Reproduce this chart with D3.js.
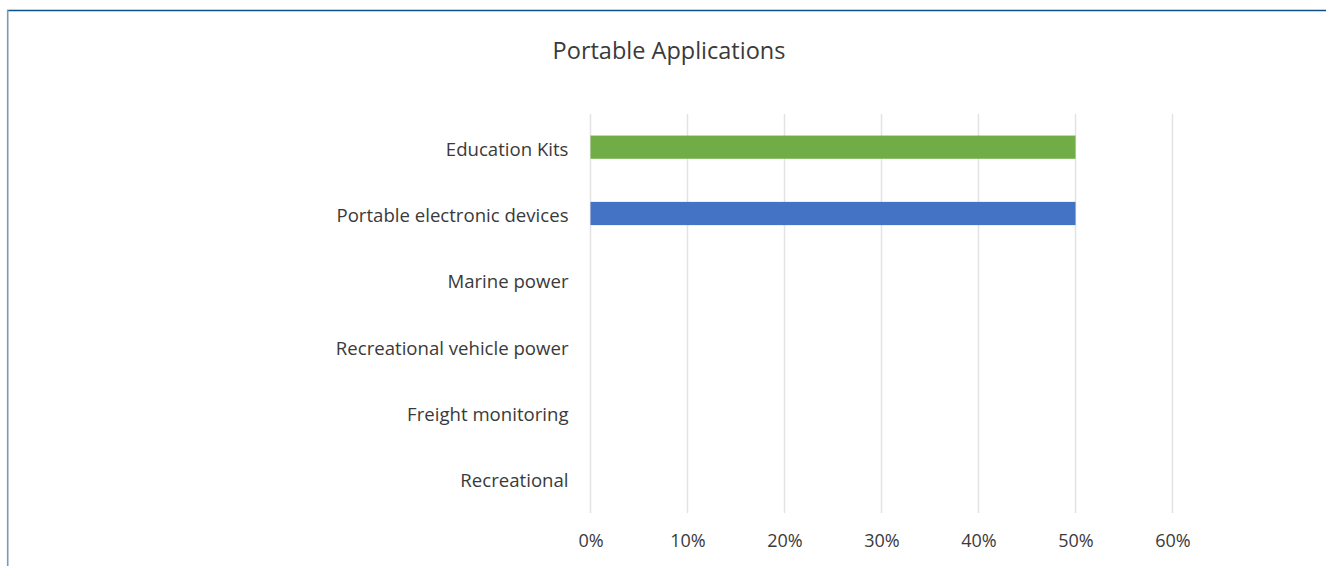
<!DOCTYPE html>
<html>
<head>
<meta charset="utf-8">
<script src="https://cdn.jsdelivr.net/npm/d3@7"></script>
<style>
  html, body { margin: 0; padding: 0; background: #fff; }
  svg { display: block; }
  text { font-family: "Open Sans", Lato, sans-serif; fill: #3a3a3a; }
</style>
</head>
<body>
<script>
const categories = ["Education Kits", "Portable electronic devices", "Marine power", "Recreational vehicle power", "Freight monitoring", "Recreational"];
const values = [0.50, 0.50, 0, 0, 0, 0];
const barColors = ["#70ad47", "#4472c4", "#4472c4", "#4472c4", "#4472c4", "#4472c4"];
const tickValues = [0, 0.1, 0.2, 0.3, 0.4, 0.5, 0.6];
const title = "Portable Applications";

const W = 1326, H = 566;
const svg = d3.select("body").append("svg").attr("width", W).attr("height", H);

// frame lines
svg.append("line").attr("x1", 7).attr("x2", W).attr("y1", 10.5).attr("y2", 10.5)
  .attr("stroke", "#0d4f8b").attr("stroke-width", 1.6);
svg.append("line").attr("x1", 7.7).attr("x2", 7.7).attr("y1", 10).attr("y2", H)
  .attr("stroke", "#7a9bb5").attr("stroke-width", 1.6);

const x = d3.scaleLinear().domain([0, 0.6]).range([590.5, 1172.5]);
const y = d3.scaleBand().domain(categories).range([114, 512]).paddingInner(0.65).paddingOuter(0.325);

// gridlines
svg.append("g").selectAll("line").data(tickValues).join("line")
  .attr("x1", d => x(d)).attr("x2", d => x(d))
  .attr("y1", 114).attr("y2", 513)
  .attr("stroke", "#e3e3e3").attr("stroke-width", 1.5);

// bars
svg.append("g").selectAll("rect").data(categories).join("rect")
  .attr("x", x(0))
  .attr("y", d => y(d))
  .attr("width", (d, i) => x(values[i]) - x(0))
  .attr("height", y.bandwidth())
  .attr("fill", (d, i) => barColors[i]);

// y axis labels
const yAxis = d3.axisLeft(y).tickSize(0).tickPadding(22);
const gy = svg.append("g").attr("transform", `translate(${x(0)},0)`).call(yAxis);
gy.select(".domain").remove();
gy.selectAll("text").style("font-size", "18.6px").style("font-family", "'Open Sans', sans-serif").attr("fill", "#3a3a3a").attr("dy", "0.46em");

// x axis labels
const xAxis = d3.axisBottom(x).tickValues(tickValues).tickFormat(d3.format(".0%")).tickSize(0).tickPadding(0);
const gx = svg.append("g").attr("transform", `translate(0,${534})`).call(xAxis);
gx.select(".domain").remove();
gx.selectAll("text").style("font-size", "18px").style("font-family", "'Open Sans', sans-serif").attr("fill", "#3a3a3a");

// title
svg.append("text").attr("x", 669).attr("y", 59).attr("text-anchor", "middle")
  .style("font-size", "23.5px").text(title);
</script>
</body>
</html>
